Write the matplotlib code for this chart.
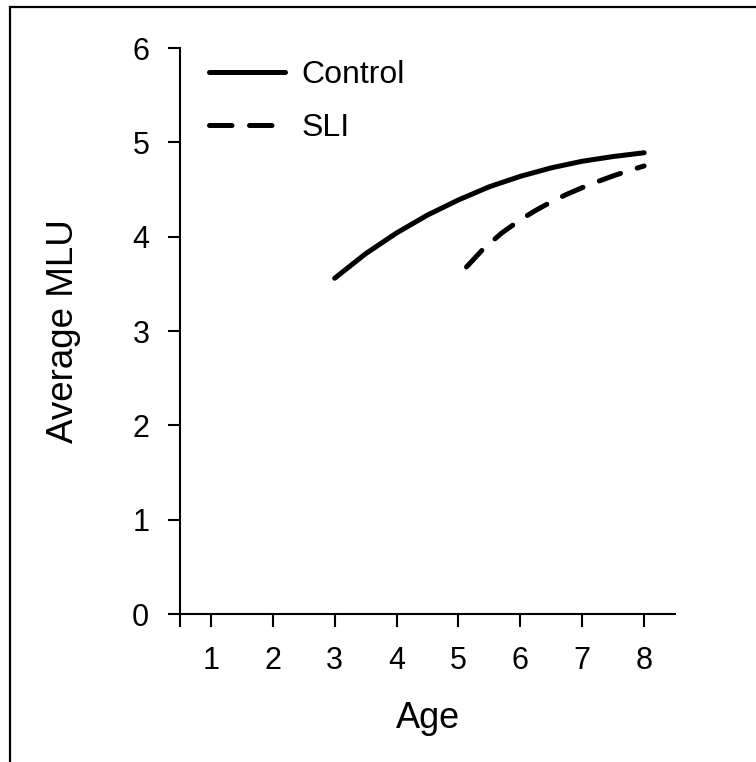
import matplotlib.pyplot as plt
from matplotlib.patches import Rectangle

plt.rcParams['font.family'] = ['Liberation Sans', 'DejaVu Sans']

# values
control_age = [3, 3.5, 4, 4.5, 5, 5.5, 6, 6.5, 7, 7.5, 8]
control_mlu = [3.56, 3.82, 4.04, 4.23, 4.39, 4.53, 4.64, 4.73, 4.80, 4.85, 4.89]
sli_age = [5.13, 5.4, 5.7, 6, 6.25, 6.5, 6.75, 7, 7.25, 7.5, 7.75, 8]
sli_mlu = [3.68, 3.87, 4.04, 4.18, 4.28, 4.37, 4.45, 4.52, 4.585, 4.645, 4.70, 4.75]

x_ticks = [1, 2, 3, 4, 5, 6, 7, 8]
y_ticks = [0, 1, 2, 3, 4, 5, 6]

fig = plt.figure(figsize=(7.56, 7.62), dpi=100)
ax = fig.add_axes([0.238, 0.194, 0.655, 0.743])

ax.plot(control_age, control_mlu, color='black', lw=3.6, solid_capstyle='round',
        solid_joinstyle='round', label='Control')
ax.plot(sli_age, sli_mlu, color='black', lw=3.6, ls=(0, (4.5, 3.5)),
        dash_capstyle='round', dash_joinstyle='round', label='SLI')

ax.set_xlim(0.5, 8.5)
ax.set_ylim(0, 6)
ax.set_xticks(x_ticks)
ax.set_yticks(y_ticks)
ax.set_xticks([0.5], minor=True)
ax.tick_params(axis='both', which='both', direction='out', length=9, width=1.5,
               labelsize=22, color='black')
ax.tick_params(axis='x', pad=14)
ax.tick_params(axis='y', pad=13)

for side in ['top', 'right']:
    ax.spines[side].set_visible(False)
for side in ['left', 'bottom']:
    ax.spines[side].set_linewidth(1.5)

ax.set_xlabel('Age', fontsize=26, labelpad=18)
ax.set_ylabel('Average MLU', fontsize=26.5, labelpad=37)

ax.legend(loc='upper left', bbox_to_anchor=(0.0, 1.03), frameon=False, fontsize=23,
          handlelength=2.4, handletextpad=0.5, labelspacing=0.72)

# outer frame, cut off at the right and bottom
fig.patches.append(Rectangle((10 / 756, -0.1), 1.2, 1 - 7 / 762 + 0.1,
                             transform=fig.transFigure, fill=False,
                             edgecolor='black', lw=1.6))

fig.savefig('out.png', dpi=100)
